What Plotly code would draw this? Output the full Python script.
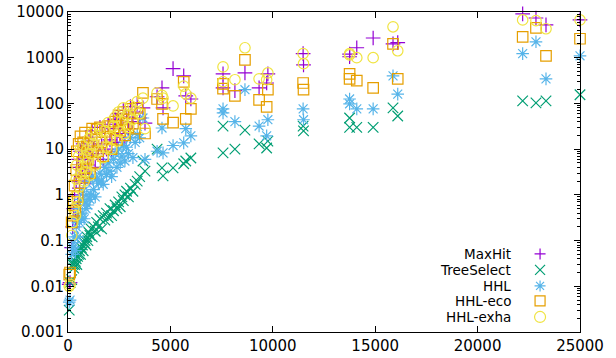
import plotly.graph_objects as go

# instance sizes (x) and running times (y) for each algorithm
x_vals = [60, 100, 180, 230, 280, 320, 360, 400, 430, 470, 520, 560, 610, 650, 700, 740,
          790, 830, 880, 920, 970, 1020, 1070, 1120, 1180, 1250, 1330, 1400, 1480, 1560,
          1640, 1720, 1800, 1880, 1960, 2050, 2130, 2220, 2300, 2390, 2470, 2550, 2630,
          2700, 2780, 2860, 2950, 3050, 3170, 3280, 3380, 3500,
          3660, 3760, 4350, 4590, 4640, 5130, 5650, 5750, 6000, 7570, 7570, 8150, 8640,
          9330, 9700, 9760, 11480, 11500, 13750, 13750, 14100, 14900, 15870, 16100,
          22200, 22850, 23340, 25000]
maxhit = [0.011, 0.012, 0.07, 0.2, 0.5, 1.0, 0.3, 2.0, 4.0, 0.6, 6, 1.4, 9, 2.5, 3.5, 13,
          1.8, 6, 2.8, 9, 4.5, 15, 2.4, 7, 25, 11, 4, 18, 8, 30,
          13, 6, 22, 10, 35, 16, 9, 28, 45, 14, 60, 22, 35,
          70, 18, 50, 28, 85, 40, 65, 100, 48,
          80, 37, 140, 219, 80, 575, 400, 147, 125, 445, 219, 190, 465,
          219, 280, 445, 1230, 700, 1200, 1050, 1650, 2700, 2000, 2130,
          9100, 7400, 5250, 6700]
treeselect = [0.003, 0.012, 0.014, 0.03, 0.025, 0.03, 0.035, 0.04, 0.03, 0.045, 0.05, 0.06, 0.05, 0.07, 0.08, 0.06,
              0.09, 0.1, 0.08, 0.12, 0.1, 0.15, 0.13, 0.18, 0.12, 0.2, 0.16, 0.25, 0.2, 0.3,
              0.18, 0.35, 0.28, 0.4, 0.32, 0.5, 0.35, 0.45, 0.6, 0.5, 0.7, 0.55, 0.9,
              0.75, 1.0, 1.2, 0.9, 1.4, 1.2, 1.7, 2.0, 2.5,
              5.5, 3.3, 10, 3.9, 2.6, 3.9, 4.8, 5.5, 6.4, 32, 8.3, 10, 26,
              13, 10.6, 15, 32, 25, 48, 30, 30, 30, 80, 53,
              114, 103, 114, 155]
hhl = [0.0045, 0.005, 0.05, 0.07, 0.09, 0.12, 0.06, 0.2, 0.3, 0.12, 0.5, 0.25, 0.8, 0.3, 0.4, 1.2,
       0.3, 0.7, 0.5, 1.0, 0.6, 2.0, 0.8, 1.0, 2.5, 1.3, 0.9, 2.2, 1.8, 3.0,
       2.0, 1.7, 4, 2.8, 5, 3.3, 2.5, 6, 8, 4, 10, 5, 7,
       12, 5.5, 11, 8, 18, 6.5, 14, 21, 17.7,
       48, 6, 9, 29, 8.3, 12, 13.7, 28, 19.5, 76, 62, 40, 200,
       32, 19.6, 44, 76, 44, 125, 98, 76, 76, 400, 160,
       1230, 2230, 345, 1100]
hhl_eco = [0.018, 0.02, 0.25, 0.35, 0.7, 1.6, 0.45, 3.5, 9, 0.9, 13, 1.8, 19, 3.2, 5, 14,
           2.4, 23, 3.8, 11, 6, 13, 3, 9, 28, 12, 5, 27, 9, 30,
           14, 7, 24, 11, 32, 17, 10, 30, 40, 16, 55, 25, 45,
           65, 20, 36, 30, 76, 36, 28, 80, 60,
           170, 22, 125, 98, 46, 38, 295, 46, 76, 267, 210, 147, 900,
           120, 84, 200, 280, 200, 445, 345, 315, 219, 2000, 345,
           2860, 4500, 1100, 2600]
hhl_exha = [0.010, 0.011, 0.13, 0.25, 0.5, 0.9, 0.35, 2.2, 4.5, 0.7, 7, 1.5, 10, 2.8, 4, 12,
            2.0, 7, 3.2, 9.5, 5, 17, 2.7, 8, 22, 12, 4.5, 20, 9, 28,
            15, 6.5, 25, 11, 38, 18, 10, 32, 50, 15, 65, 24, 40,
            80, 22, 55, 30, 90, 45, 69, 110, 60,
            130, 28, 170, 150, 130, 88, 240, 162, 130, 630, 300, 330, 1650,
            345, 330, 465, 1230, 740, 1230, 1150, 1000, 1000, 4750, 1420,
            6700, 6500, 4300, 6700]

series_names = ["MaxHit", "TreeSelect", "HHL", "HHL-eco", "HHL-exha"]
series_vals = [maxhit, treeselect, hhl, hhl_eco, hhl_exha]
symbols = ["cross-thin-open", "x-thin-open", "asterisk-open", "square-open", "circle-open"]
colors = ["#9400D3", "#009E73", "#56B4E9", "#E69F00", "#F0E442"]

x_ticks = [0, 5000, 10000, 15000, 20000, 25000]
x_ticktext = ["0", "5000", "10000", "15000", "20000", "25000"]
y_ticks = [0.001, 0.01, 0.1, 1, 10, 100, 1000, 10000]
y_ticktext = ["0.001", "0.01", "0.1", "1", "10", "100", "1000", "10000"]
y_minor = [d * m for d in y_ticks[:-1] for m in range(2, 10)]

FONT = "DejaVu Sans"

fig = go.Figure()
for name, vals, sym, col in zip(series_names, series_vals, symbols, colors):
    fig.add_trace(go.Scatter(
        x=x_vals, y=vals, mode="markers", name=name, showlegend=False,
        cliponaxis=False,
        marker=dict(symbol=sym, size=10.5, color=col, line=dict(color=col, width=1.2)),
    ))

# legend drawn gnuplot-style: text right-aligned, sample to the right
legend_y = [0.244, 0.194, 0.144, 0.097, 0.047]
shapes = []
annotations = []
for i, (name, col) in enumerate(zip(series_names, colors)):
    yy = legend_y[i]
    annotations.append(dict(
        x=0.868, y=yy, xref="paper", yref="paper", text=name, showarrow=False,
        xanchor="right", yanchor="middle", borderpad=0,
        font=dict(family=FONT, size=13.5, color="black")))
    common = dict(xref="paper", yref="paper", xsizemode="pixel", ysizemode="pixel",
                  xanchor=0.922, yanchor=yy, line=dict(color=col, width=1.2))
    if i == 0:
        shapes.append(dict(type="path", path="M-5.5,0 L5.5,0 M0,-5.5 L0,5.5", **common))
    elif i == 1:
        shapes.append(dict(type="path", path="M-5,-5 L5,5 M-5,5 L5,-5", **common))
    elif i == 2:
        shapes.append(dict(type="path",
                           path="M-5.5,0 L5.5,0 M0,-5.5 L0,5.5 M-4,-4 L4,4 M-4,4 L4,-4", **common))
    elif i == 3:
        shapes.append(dict(type="rect", x0=-5, x1=5, y0=-5, y1=5, **common))
    else:
        shapes.append(dict(type="circle", x0=-5.5, x1=5.5, y0=-5.5, y1=5.5, **common))

fig.update_layout(
    width=616, height=358,
    margin=dict(l=68, r=36, t=12, b=26, autoexpand=False),
    paper_bgcolor="white", plot_bgcolor="white",
    shapes=shapes, annotations=annotations,
    font=dict(family=FONT, size=15, color="black"),
    xaxis=dict(range=[0, 25000], tickvals=x_ticks, ticktext=x_ticktext, ticks="inside",
               ticklen=6, tickcolor="black", mirror="ticks", showline=True,
               linecolor="black", linewidth=1, showgrid=False, zeroline=False,
               automargin=False,
               tickfont=dict(family=FONT, size=15, color="black")),
    yaxis=dict(type="log", range=[-3, 4], tickvals=y_ticks, ticktext=y_ticktext,
               ticks="inside", ticklen=6, tickcolor="black", mirror="ticks",
               showline=True, linecolor="black", linewidth=1, showgrid=False,
               zeroline=False, automargin=False,
               tickfont=dict(family=FONT, size=15, color="black"),
               minor=dict(tickvals=y_minor, ticks="inside", ticklen=3,
                          tickcolor="black", showgrid=False)),
)

fig.write_html("out.html", config={"displayModeBar": False},
               post_script="document.body.style.margin='0';")
